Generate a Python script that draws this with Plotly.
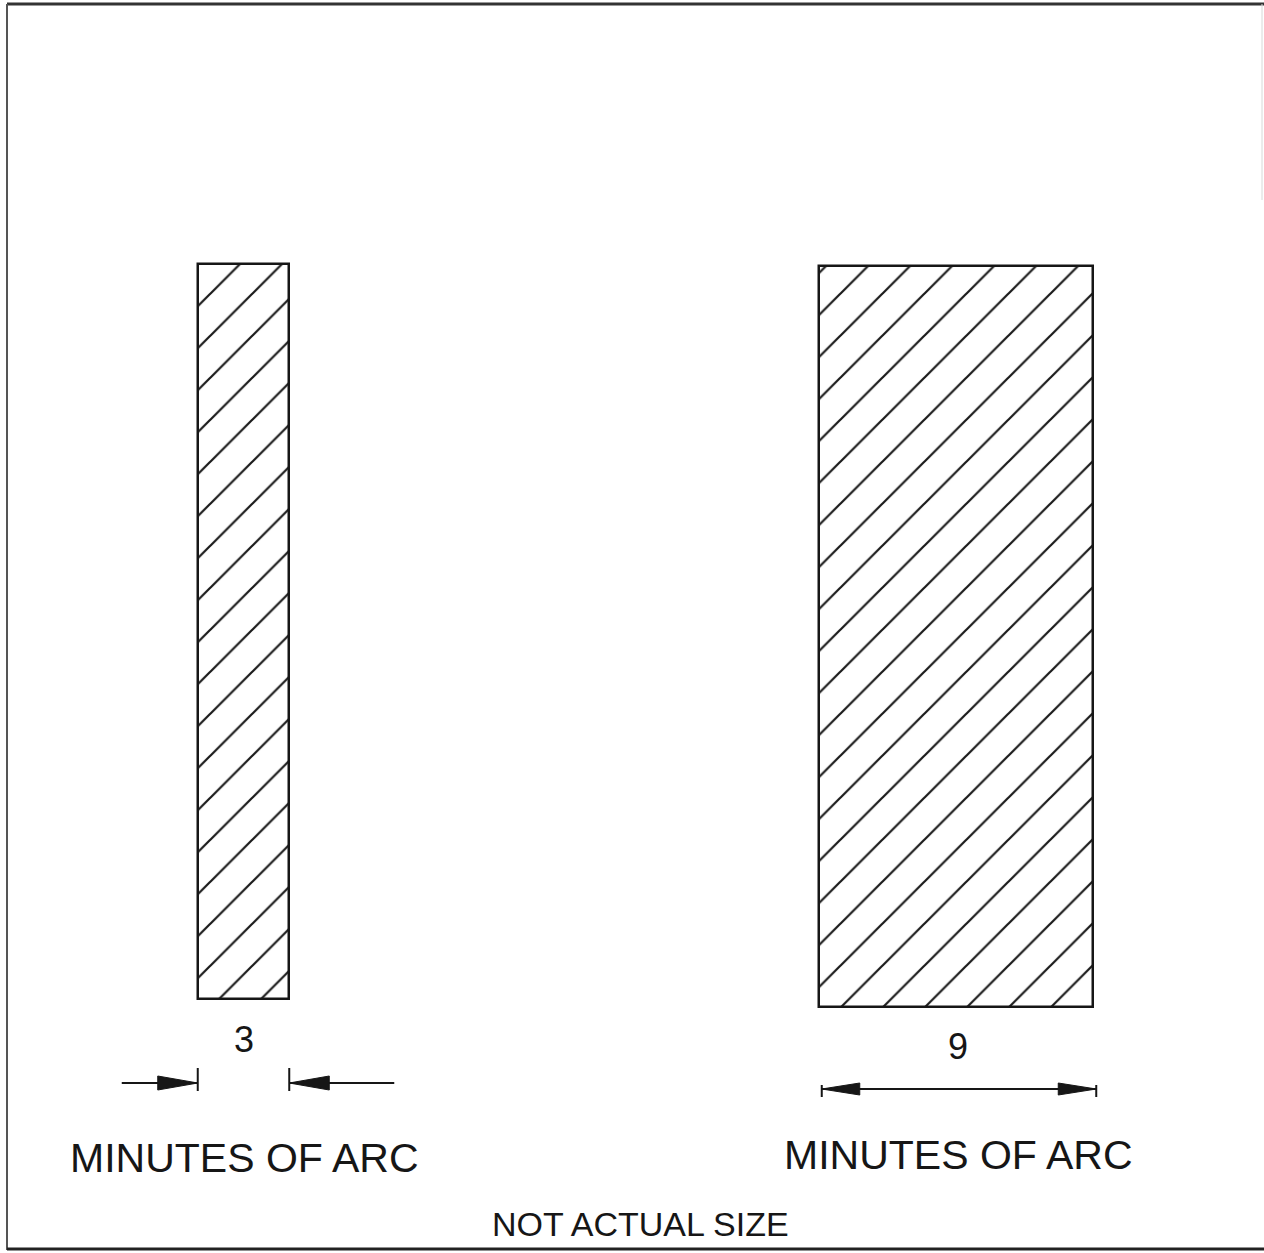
import plotly.graph_objects as go

# target sizes, minutes of arc
arc_widths = [3, 9]
arc_labels = ["3", "9"]
unit_text = "MINUTES OF ARC"
note_text = "NOT ACTUAL SIZE"

W, H = 1264, 1253
px_per_arcmin = 30.5          # drawing scale (not actual size)
bar_centers = [243.5, 956]
bar_tops = [264, 266]
bar_bottoms = [999, 1007]
ink = "#161616"
font = "Liberation Sans"

fig = go.Figure()

widths = [a * px_per_arcmin for a in arc_widths]
for cx, w, t, b in zip(bar_centers, widths, bar_tops, bar_bottoms):
    fig.add_trace(
        go.Bar(
            x=[cx],
            y=[b - t],
            base=[t],
            width=[w],
            marker=dict(
                color="white",
                line=dict(color=ink, width=2.5),
                pattern=dict(shape="/", size=29.7, solidity=0.075,
                             fgcolor="#1a1a1a", fgopacity=1, bgcolor="white",
                             fillmode="overlay"),
            ),
            hoverinfo="skip",
            showlegend=False,
        )
    )

edges = [(cx - w / 2, cx + w / 2) for cx, w in zip(bar_centers, widths)]


def line(x0, y0, x1, y1, width=2, color=ink):
    fig.add_shape(type="line", x0=x0, y0=y0, x1=x1, y1=y1,
                  line=dict(color=color, width=width), layer="above")


def head(tip_x, y, direction, length, half):
    # direction +1 points right, -1 points left
    bx = tip_x - direction * length
    fig.add_shape(type="path",
                  path=f"M {tip_x},{y} L {bx},{y - half} L {bx},{y + half} Z",
                  fillcolor=ink, line=dict(color=ink, width=1), layer="above")


# left dimension: arrows pointing inward from outside
yl = 1083
l0, l1 = edges[0]
line(l0, yl - 15, l0, yl + 8)
line(l1, yl - 15, l1, yl + 8)
line(l0 - 76, yl, l0, yl)
line(l1, yl, l1 + 105, yl)
head(l0, yl, 1, 40, 7)
head(l1, yl, -1, 40, 7)

# right dimension: arrows pointing outward
yr = 1089
r0, r1 = edges[1]
r0 += 3
r1 += 3
line(r0, yr - 4, r0, yr + 8)
line(r1, yr - 4, r1, yr + 8)
line(r0, yr, r1, yr)
head(r0, yr, -1, 38, 6)
head(r1, yr, 1, 38, 6)

# labels
fig.add_annotation(x=bar_centers[0], y=1039, text=arc_labels[0], showarrow=False,
                   font=dict(family=font, size=36, color=ink))
fig.add_annotation(x=bar_centers[1] + 2, y=1046, text=arc_labels[1], showarrow=False,
                   font=dict(family=font, size=36, color=ink))
fig.add_annotation(x=244, y=1158, text=unit_text, showarrow=False,
                   font=dict(family=font, size=41, color=ink))
fig.add_annotation(x=958, y=1155, text=unit_text, showarrow=False,
                   font=dict(family=font, size=41, color=ink))
fig.add_annotation(x=640, y=1224, text=note_text, showarrow=False,
                   font=dict(family=font, size=34, color=ink))

# frame
line(7, 4, W, 4, width=3, color="#333333")
line(7, 4, 7, 1250, width=2, color="#555555")
line(7, 1249, W, 1249, width=3, color="#222222")
line(1262, 4, 1262, 200, width=1, color="#d8d8d8")

fig.update_xaxes(visible=False, range=[0, W], fixedrange=True)
fig.update_yaxes(visible=False, range=[H, 0], fixedrange=True)
fig.update_layout(
    width=W,
    height=H,
    margin=dict(l=0, r=0, t=0, b=0),
    paper_bgcolor="white",
    plot_bgcolor="white",
    bargap=0,
)

fig.write_html("out.html", config={"displayModeBar": False},
               post_script="document.body.style.margin='0';")
